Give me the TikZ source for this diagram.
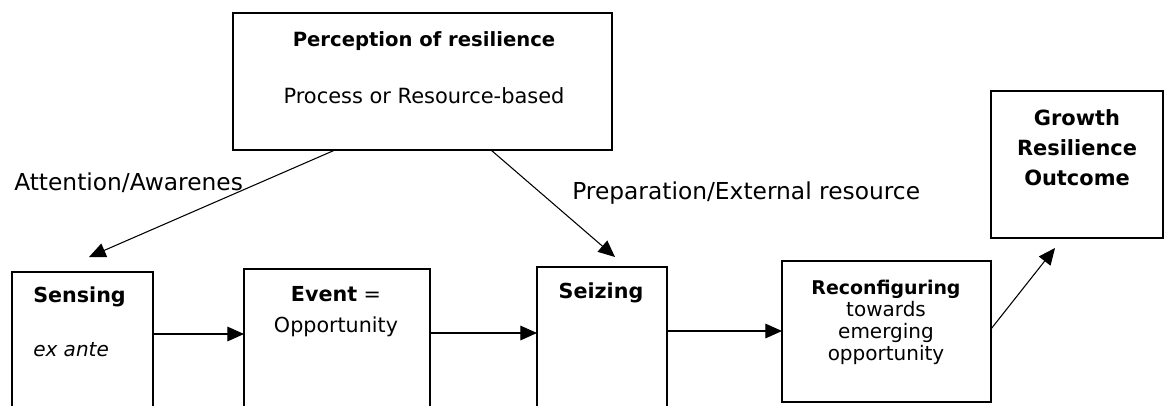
\documentclass[tikz,border=0pt]{standalone}
\usepackage{fontspec}
\setmainfont{DejaVu Sans}
\usetikzlibrary{arrows.meta}
\begin{document}
\begin{tikzpicture}[x=0.75pt,y=-0.75pt,
  box/.style={draw, line width=1.5pt, anchor=north west, inner sep=0pt, outer sep=0pt},
  arr/.style={line width=0.8pt, -{Triangle[length=12.5pt,width=11pt]}},
  lbl/.style={inner sep=0pt, font=\fontsize{17.5pt}{21pt}\selectfont},
  txt/.style={inner sep=0pt, align=center, font=\fontsize{15.5pt}{18pt}\selectfont},
  btxt/.style={inner sep=0pt, align=center, font=\fontsize{15.5pt}{18pt}\selectfont\bfseries}
]
\useasboundingbox (0,0) rectangle (1167,405);
\clip (0,0) rectangle (1167,405);

% boxes
\node[box, minimum width=284.25pt, minimum height=102.75pt] (percep) at (233,13) {};
\node[box, minimum width=129pt, minimum height=110.25pt] (growth) at (991,91) {};
\node[box, minimum width=105.75pt, minimum height=120pt] (sensing) at (12,272) {};
\node[box, minimum width=139.5pt, minimum height=120pt] (event) at (244,269) {};
\node[box, minimum width=97.5pt, minimum height=120pt] (seizing) at (537,267) {};
\node[box, minimum width=156.75pt, minimum height=105.75pt] (reconf) at (782,261) {};

% box texts
\node[btxt, font=\fontsize{14.7pt}{18pt}\selectfont\bfseries] (percepT) at (424,41) {Perception of resilience};
\node[txt, font=\fontsize{15.7pt}{18pt}\selectfont] (percepS) at (424,96) {Process or Resource-based};
\node[btxt, font=\fontsize{15.7pt}{22.5pt}\selectfont\bfseries] (growthT) at (1077,148) {Growth\\Resilience\\Outcome};
\node[btxt, anchor=west] (sensingT) at (33,297) {Sensing};
\node[txt, anchor=west, font=\fontsize{15pt}{18pt}\selectfont\itshape] (sensingS) at (33,350) {ex ante};
\node[txt, font=\fontsize{15.5pt}{23pt}\selectfont] (eventT) at (336,311.5) {\textbf{Event} =\\Opportunity};
\node[btxt] (seizingT) at (601,293) {Seizing};
\node[txt, font=\fontsize{15pt}{16.5pt}\selectfont] (reconfT) at (886,322) {{\fontsize{14.2pt}{16.5pt}\selectfont\bfseries Reconfiguring}\\towards\\emerging\\opportunity};

% connector labels
\node[lbl, anchor=west] (attn) at (14,183) {Attention/Awarenes};
\node[lbl, anchor=west] (prep) at (572,193) {Preparation/External resource};

% free arrow ends
\coordinate (tipA) at (89,257);
\coordinate (tipB) at (615,257);
\coordinate (tipC) at (1055,248);

% connectors
\draw[arr] (percep.south -| 335,0) -- (tipA);
\draw[arr] (percep.south -| 491,0) -- (tipB);
\draw[arr] (sensing.east |- 0,334) -- (event.west |- 0,334);
\draw[arr] (event.east |- 0,333) -- (seizing.west |- 0,333);
\draw[arr] (seizing.east |- 0,331) -- (reconf.west |- 0,331);
\draw[arr] (reconf.east |- 0,329) -- (tipC);
\end{tikzpicture}
\end{document}
